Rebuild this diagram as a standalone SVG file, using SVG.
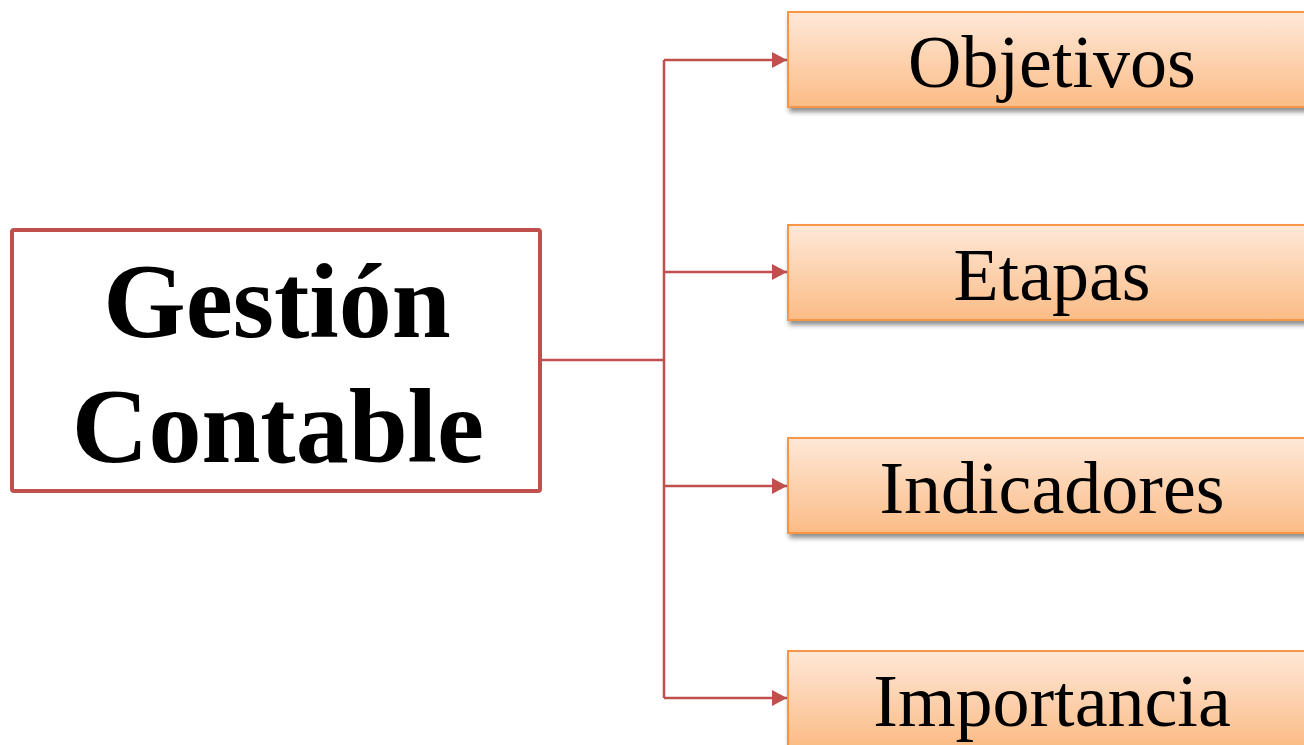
<svg xmlns="http://www.w3.org/2000/svg" width="1304" height="745" viewBox="0 0 1304 745">
<style>
.conn{fill:none;stroke:#C0504D;stroke-width:2.5}
.item rect{fill:url(#g);stroke:#F79646;stroke-width:2;filter:url(#sh)}
.item text{font-family:"Liberation Serif","Times New Roman",serif;font-size:74px;fill:#000;text-anchor:middle}
.main text{font-family:"Liberation Serif","Times New Roman",serif;font-size:106px;font-weight:bold;fill:#000;text-anchor:middle}
</style>
<defs>
<linearGradient id="g" x1="0" y1="0" x2="0" y2="1">
<stop offset="0" stop-color="#FEE8D8"/>
<stop offset="1" stop-color="#FBBC86"/>
</linearGradient>
<filter id="sh" x="-5%" y="-10%" width="115%" height="130%">
<feGaussianBlur in="SourceAlpha" stdDeviation="2.5"/>
<feOffset dx="2" dy="4" result="b"/>
<feComponentTransfer><feFuncA type="linear" slope="0.45"/></feComponentTransfer>
<feMerge><feMergeNode/><feMergeNode in="SourceGraphic"/></feMerge>
</filter>
<marker id="ah" viewBox="0 0 10 10" refX="10" refY="5" markerWidth="6" markerHeight="6.4" orient="auto" markerUnits="strokeWidth" preserveAspectRatio="none">
<path d="M0,0 L10,5 L0,10 Z" fill="#C0504D"/>
</marker>
</defs>
<g id="connectors">
<path class="conn" d="M540,360 H664"/>
<path class="conn" d="M664,60 V698"/>
<path class="conn" d="M664,60 H787" marker-end="url(#ah)"/>
<path class="conn" d="M664,272 H787" marker-end="url(#ah)"/>
<path class="conn" d="M664,486 H787" marker-end="url(#ah)"/>
<path class="conn" d="M664,698 H787" marker-end="url(#ah)"/>
</g>
<g id="main" class="main">
<rect x="12" y="230" width="528" height="261" rx="2" fill="#fff" stroke="#C0504D" stroke-width="4"/>
<text x="277" y="337">Gestión</text>
<text x="278" y="462">Contable</text>
</g>
<g id="n1" class="item">
<rect x="788" y="12" width="530" height="95"/>
<text x="1052" y="87">Objetivos</text>
</g>
<g id="n2" class="item">
<rect x="788" y="225" width="530" height="95"/>
<text x="1052" y="300">Etapas</text>
</g>
<g id="n3" class="item">
<rect x="788" y="438" width="530" height="95"/>
<text x="1052" y="513">Indicadores</text>
</g>
<g id="n4" class="item">
<rect x="788" y="651" width="530" height="95"/>
<text x="1052" y="726">Importancia</text>
</g>
</svg>
